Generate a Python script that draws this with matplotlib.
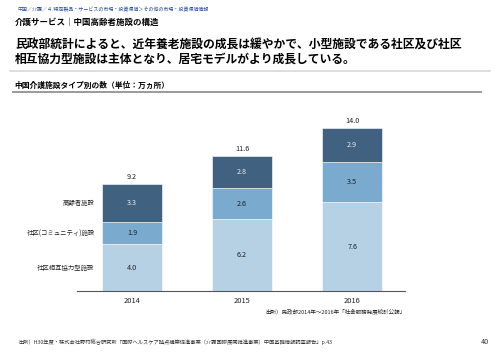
import matplotlib.pyplot as plt
from matplotlib.lines import Line2D

plt.rcParams['font.family'] = ['Noto Sans CJK JP', 'DejaVu Sans']

years = ["2014", "2015", "2016"]
kyoryoku = [4.0, 6.2, 7.6]      # 社区相互協力型施設
community = [1.9, 2.6, 3.5]     # 社区（コミュニティ）施設
koreisha = [3.3, 2.8, 2.9]      # 高齢者施設
totals = [9.2, 11.6, 14.0]
row_labels = ["社区相互協力型施設", "社区(コミュニティ)施設", "高齢者施設"]

colors = ["#b6d1e4", "#7aaace", "#40617f"]
text_colors = ["#222222", "#222222", "#e8eef4"]

W, H = 500, 353
fig = plt.figure(figsize=(5, 3.53), dpi=100)

# header texts
fig.text(17 / W, 1 - 10 / H, "中国／介護／４.特定製品・サービスの市場・投資環境＞その他の市場・投資環境情報",
         fontsize=3.6, color="#2b4c9b", va="center")
fig.text(15 / W, 1 - 22 / H, "介護サービス｜中国高齢者施設の構造",
         fontsize=6.1, fontweight="bold", va="center")
fig.text(15 / W, 1 - 45 / H, "民政部統計によると、近年養老施設の成長は緩やかで、小型施設である社区及び社区",
         fontsize=8.5, fontweight="bold", va="center")
fig.text(15 / W, 1 - 59 / H, "相互協力型施設は主体となり、居宅モデルがより成長している。",
         fontsize=8.5, fontweight="bold", va="center")
fig.add_artist(Line2D([10 / W, 490 / W], [1 - 71 / H] * 2, color="#d8d8d8", lw=1.2))
fig.text(14 / W, 1 - 85 / H, "中国介護施設タイプ別の数（単位：万ヵ所）",
         fontsize=5.6, fontweight="bold", va="center")
fig.add_artist(Line2D([13 / W, 481 / W], [1 - 92 / H] * 2, color="#9a9a9a", lw=1.4))

# chart
ax = fig.add_axes([77 / W, 1 - 291 / H, 328 / W, 11.65 * 15 / H])
x = range(len(years))
bottom = [0, 0, 0]
for vals, c, tc in zip([kyoryoku, community, koreisha], colors, text_colors):
    ax.bar(x, vals, width=0.545, bottom=bottom, color=c, edgecolor="white", linewidth=0.4)
    for i, v in enumerate(vals):
        ax.text(i, bottom[i] + v / 2, f"{v:.1f}", ha="center", va="center", fontsize=5.2, color=tc)
    bottom = [b + v for b, v in zip(bottom, vals)]
for i, t in enumerate(totals):
    ax.text(i, t + 0.25, f"{t:.1f}", ha="center", va="bottom", fontsize=5.2, color="#222222")

# row labels next to the 2014 bar
mid = []
b = 0
for vals in [kyoryoku, community, koreisha]:
    mid.append(b + vals[0] / 2)
    b += vals[0]
for lbl, y in zip(row_labels, mid):
    ax.text(-0.34, y, lbl, ha="right", va="center", fontsize=4.6, color="#222222")

ax.set_xlim(-0.5, 2.48)
ax.set_ylim(0, 15)
ax.set_xticks(list(x))
ax.set_xticklabels(years, fontsize=5.4, color="#222222")
ax.tick_params(axis="x", length=0, pad=4)
ax.set_yticks([])
for s in ["top", "right", "left"]:
    ax.spines[s].set_visible(False)
ax.spines["bottom"].set_color("#555555")
ax.spines["bottom"].set_linewidth(0.8)

fig.text(405 / W, 1 - 311 / H, "出所）民政部2014年～2016年「社会服務発展統計公報」",
         fontsize=4.0, ha="right", va="center", color="#222222")
fig.text(18 / W, 1 - 342 / H,
         "出所）H30年度・株式会社野村総合研究所「国際ヘルスケア拠点構築促進事業（介護国際展開推進事業）中国基礎情報調査報告」p.43",
         fontsize=3.8, va="center", color="#333333")
fig.text(485 / W, 1 - 342 / H, "40", fontsize=5.2, ha="center", va="center", color="#333333")

fig.savefig("out.png", dpi=100)
